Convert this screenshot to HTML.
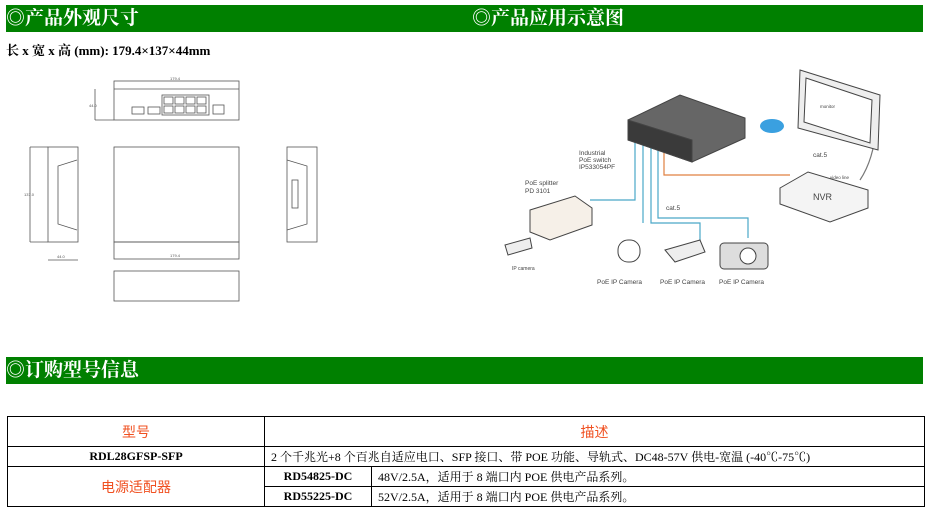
<!DOCTYPE html><html><head><meta charset="utf-8"><style>
body{margin:0;background:#fff;width:938px;height:519px;overflow:hidden;position:relative;font-family:"Liberation Serif","Noto Serif CJK SC",serif}
.bar{position:absolute;left:6px;width:917px;height:27px;background:#008000;color:#fff;font-size:19px;font-weight:bold;line-height:27px;font-family:"Liberation Serif","Noto Serif CJK SC",serif}
table{position:absolute;left:7px;top:416px;width:918px;border-collapse:collapse;font-size:12px}
td{border:1px solid #000;text-align:center;padding:0;height:19px}
.o{color:#f05020;font-size:14px;font-family:"Liberation Sans","Noto Sans CJK SC",sans-serif}
.l{text-align:left;padding-left:6px}
</style></head><body>
<div class="bar" style="top:5px">◎产品外观尺寸<span style="position:absolute;left:466px">◎产品应用示意图</span></div>
<div style="position:absolute;left:6px;top:40px;font-size:13px;font-weight:bold">长 x 宽 x 高 (mm): 179.4×137×44mm</div>
<svg style="position:absolute;left:0;top:0" width="938" height="519" font-family="Liberation Sans,sans-serif">
<g fill="none" stroke="#555" stroke-width="0.8">
<rect x="114" y="81" width="125" height="39"/><line x1="114" y1="89" x2="239" y2="89"/>
<line x1="95" y1="89" x2="95" y2="120"/><line x1="95" y1="120" x2="114" y2="120"/>
<rect x="162" y="95" width="47" height="20"/>
<rect x="164" y="97" width="9" height="7"/><rect x="175" y="97" width="9" height="7"/><rect x="186" y="97" width="9" height="7"/><rect x="197" y="97" width="9" height="7"/>
<rect x="164" y="106" width="9" height="7"/><rect x="175" y="106" width="9" height="7"/><rect x="186" y="106" width="9" height="7"/><rect x="197" y="106" width="9" height="7"/>
<rect x="132" y="107" width="12" height="7"/><rect x="148" y="107" width="12" height="7"/><rect x="213" y="105" width="11" height="9"/>
<rect x="48" y="147" width="30" height="95"/><line x1="30" y1="147" x2="48" y2="147"/><line x1="30" y1="242" x2="48" y2="242"/><line x1="30" y1="147" x2="30" y2="242"/>
<polyline points="77,160 58,166 58,224 77,230"/><line x1="48" y1="260" x2="78" y2="260"/>
<rect x="114" y="147" width="125" height="95"/><rect x="114" y="242" width="125" height="17"/>
<rect x="114" y="271" width="125" height="30"/>
<rect x="287" y="147" width="30" height="95"/><polyline points="287,160 307,166 307,224 287,230"/><rect x="292" y="180" width="6" height="28"/>
</g>
<g font-size="4" fill="#555"><text x="170" y="80">179.4</text><text x="89" y="107">44.0</text><text x="24" y="196">137.0</text><text x="57" y="258">44.0</text><text x="170" y="257">179.4</text></g>
<g fill="none" stroke-width="1.2">
<path d="M635,135 V200 H590" stroke="#4aa8c8"/><path d="M643,135 V223" stroke="#4aa8c8"/><path d="M651,137 V223 H700 V240" stroke="#4aa8c8"/>
<path d="M658,139 V218 H748 V238" stroke="#4aa8c8"/><path d="M664,142 V175 H790" stroke="#e08040"/>
<path d="M860,180 Q880,150 876,95" stroke="#777"/>
</g>
<g stroke="#444" stroke-width="1">
<polygon points="628,120 680,95 745,118 745,138 692,162 628,140" fill="#666"/><polygon points="628,120 692,140 692,162 628,140" fill="#3a3a3a"/>
<polygon points="800,70 880,95 878,150 798,128" fill="#eee"/><polygon points="806,78 872,100 870,143 804,122" fill="#fff"/>
<polygon points="780,188 808,172 868,190 868,208 830,222 780,204" fill="#f4f4f4"/>
<polygon points="530,210 575,196 592,208 592,225 550,240 530,232" fill="#f6f0e8"/>
<rect x="618" y="240" width="22" height="22" rx="10" fill="#fff"/><polygon points="665,250 700,240 705,252 675,262" fill="#eee"/>
<rect x="720" y="243" width="48" height="26" rx="4" fill="#ddd"/><circle cx="748" cy="256" r="8" fill="#fff"/>
<polygon points="505,245 530,238 532,248 508,255" fill="#eee"/>
</g>
<ellipse cx="772" cy="126" rx="12" ry="7" fill="#3aa0e0"/>
<g font-size="6.5" fill="#444"><text x="579" y="155">Industrial</text><text x="579" y="162">PoE switch</text><text x="579" y="169">IP533054PF</text>
<text x="525" y="185">PoE splitter</text><text x="525" y="193">PD 3101</text><text x="666" y="210">cat.5</text><text x="813" y="157">cat.5</text>
<text x="830" y="179" font-size="4.5">video line</text><text x="813" y="200" font-size="9">NVR</text><text x="820" y="108" font-size="4.5">monitor</text>
<text x="597" y="284">PoE IP Camera</text><text x="660" y="284">PoE IP Camera</text><text x="719" y="284">PoE IP Camera</text><text x="512" y="270" font-size="5">IP camera</text></g>
</svg>
<div class="bar" style="top:357px">◎订购型号信息</div>
<table>
<tr><td class="o" style="height:29px;width:256px">型号</td><td class="o" colspan="2">描述</td></tr>
<tr><td style="font-weight:bold">RDL28GFSP-SFP</td><td colspan="2" class="l">2 个千兆光+8 个百兆自适应电口、SFP 接口、带 POE 功能、导轨式、DC48-57V 供电-宽温 (-40℃-75℃)</td></tr>
<tr><td rowspan="2" class="o">电源适配器</td><td style="width:106px;font-weight:bold">RD54825-DC</td><td class="l">48V/2.5A，适用于 8 端口内 POE 供电产品系列。</td></tr>
<tr><td style="font-weight:bold">RD55225-DC</td><td class="l">52V/2.5A，适用于 8 端口内 POE 供电产品系列。</td></tr>
</table>
</body></html>
